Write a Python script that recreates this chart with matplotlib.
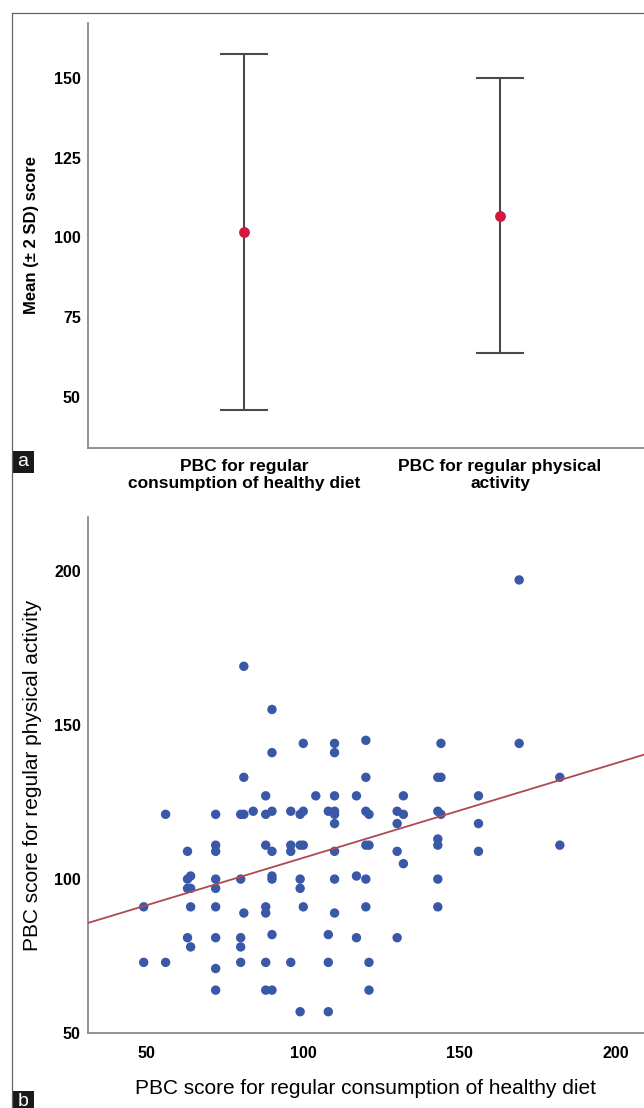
import matplotlib
matplotlib.use("Agg")
import matplotlib.pyplot as plt
from matplotlib.patches import Rectangle
from matplotlib.lines import Line2D

# ---------- data: panel a (mean +/- 2 SD) ----------
categories = ["PBC for regular\nconsumption of healthy diet",
              "PBC for regular physical\nactivity"]
means = [101.7, 106.8]
two_sd = [55.6, 43.0]

# ---------- data: panel b (scatter) ----------
diet_score = [169, 81, 90, 100, 110, 110, 120, 144, 169, 90, 81, 120, 143, 144, 182,
              88, 104, 110, 117, 132, 156,
              56, 72, 80, 81, 84, 88, 90, 96, 99, 100, 108, 110, 110, 120, 121, 130,
              132, 143, 144,
              110, 130, 156, 143,
              72, 88, 96, 99, 100, 120, 121, 143, 182,
              63, 72, 90, 96, 110, 130, 156, 132,
              63, 64, 72, 80, 90, 90, 99, 110, 117, 120, 143,
              63, 64, 72, 99,
              49, 64, 72, 88, 100, 120, 143,
              81, 88, 110, 90, 108,
              63, 72, 80, 117, 130, 64, 80,
              49, 56, 80, 88, 96, 108, 121, 72, 72, 88, 90, 121, 99, 108]
activity_score = [197, 169, 155, 144, 144, 141, 145, 144, 144, 141, 133, 133, 133, 133, 133,
                  127, 127, 127, 127, 127, 127,
                  121, 121, 121, 121, 122, 121, 122, 122, 121, 122, 122, 121, 122, 122, 121, 122,
                  121, 122, 121,
                  118, 118, 118, 113,
                  111, 111, 111, 111, 111, 111, 111, 111, 111,
                  109, 109, 109, 109, 109, 109, 109, 105,
                  100, 101, 100, 100, 101, 100, 100, 100, 101, 100, 100,
                  97, 97, 97, 97,
                  91, 91, 91, 91, 91, 91, 91,
                  89, 89, 89, 82, 82,
                  81, 81, 81, 81, 81, 78, 78,
                  73, 73, 73, 73, 73, 73, 73, 71, 64, 64, 64, 64, 57, 57]
fit_intercept = 76.2
fit_slope = 0.307

W, H = 644, 1108
TICK_FONT = ["Liberation Sans Narrow", "Liberation Sans", "DejaVu Sans"]
LABEL_FONT = ["Liberation Sans", "DejaVu Sans"]


def fx(px):
    return px / W


def fy(py):
    return 1 - py / H


fig = plt.figure(figsize=(W / 100, H / 100), dpi=100)

# outer frame (top + left edges visible)
fig.add_artist(Line2D([fx(11.5), 1.0], [fy(12.7), fy(12.7)], color="#666666", lw=0.9))
fig.add_artist(Line2D([fx(11.5), fx(11.5)], [fy(12.7), 0.0], color="#666666", lw=0.9))


def style_axes(ax):
    for s in ["top", "right"]:
        ax.spines[s].set_visible(False)
    for s in ["left", "bottom"]:
        ax.spines[s].set_color("#8a8a8a")
        ax.spines[s].set_linewidth(1.3)
    ax.tick_params(length=0)
    for lab in ax.get_yticklabels() + ax.get_xticklabels():
        lab.set_family(TICK_FONT)
        lab.set_fontweight("bold")
        lab.set_fontsize(11.5)


# ---------- panel a ----------
ax1 = fig.add_axes([fx(87.7), fy(448.3), 1 - fx(87.7), (448.3 - 22.7) / H])
ax1.errorbar([0, 1], means, yerr=two_sd, fmt="none", ecolor="#4a4a4a",
             elinewidth=1.5, capsize=17, capthick=1.5, zorder=2)
ax1.plot([0, 1], means, "o", color="#d6173d", ms=6.8, zorder=3)
ax1.set_xlim(-0.612, 1.563)
ax1.set_ylim(34.0, 167.2)
ax1.set_yticks([50, 75, 100, 125, 150])
ax1.set_xticks([0, 1])
ax1.set_xticklabels([])
style_axes(ax1)
ax1.tick_params(axis="y", pad=5)
# category labels drawn by hand so the line spacing can be set
for i, cat in enumerate(categories):
    ax1.annotate(cat, xy=(i, 0), xycoords=("data", "axes fraction"),
                 xytext=(0, -7.5), textcoords="offset points", ha="center", va="top",
                 family=LABEL_FONT, fontweight="bold", fontsize=12.5, linespacing=1.17)
fig.text(fx(32), fy(235.5), "Mean (± 2 SD) score", rotation=90, ha="center",
         va="center", family=LABEL_FONT, fontweight="bold", fontsize=12)

# ---------- panel b ----------
ax2 = fig.add_axes([fx(87.7), fy(1033.3), 1 - fx(87.7), (1033.3 - 516.7) / H])
ax2.scatter(diet_score, activity_score, s=46, color="#3a58a8", edgecolors="none",
            zorder=2)
ax2.axline((0, fit_intercept), slope=fit_slope, color="#b04850", lw=1.3, zorder=3)
ax2.set_xlim(31.1, 208.9)
ax2.set_ylim(51.1, 217.5)
ax2.set_xticks([50, 100, 150, 200])
ax2.set_yticks([50, 100, 150, 200])
style_axes(ax2)
ax2.tick_params(axis="y", pad=5)
ax2.tick_params(axis="x", pad=9)
fig.text(fx(32.5), fy(775), "PBC score for regular physical activity", rotation=90,
         ha="center", va="center", family=LABEL_FONT, fontsize=15)
fig.text(fx(365.8), fy(1089), "PBC score for regular consumption of healthy diet",
         ha="center", va="center", family=LABEL_FONT, fontsize=15)

# ---------- panel tags ----------
for tag, top in [("a", 450.7), ("b", 1090.7)]:
    fig.add_artist(Rectangle((fx(11.7), fy(top + 22)), 22 / W, 22 / H,
                             transform=fig.transFigure, color="#1a1a1a", lw=0))
    fig.text(fx(22.7), fy(top + 11), tag, ha="center", va="center", color="white",
             family=LABEL_FONT, fontsize=14)

fig.savefig("out.png", dpi=100)
